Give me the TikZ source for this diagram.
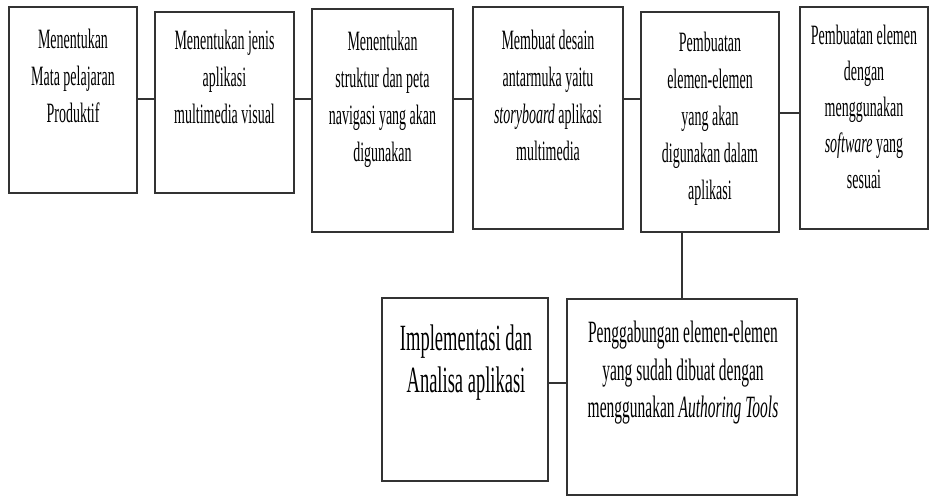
\documentclass[tikz,border=0pt]{standalone}
\usepackage{fontspec}
\newfontfamily\boxfont[FakeStretch=0.5]{Liberation Serif}

\begin{document}
\begin{tikzpicture}[x=1pt, y=-1pt,
  box/.style={draw=black!80, line width=1.6pt, inner sep=0pt},
  link/.style={draw=black!80, line width=1.6pt},
  txt/.style={align=center, anchor=north, inner sep=0pt,
    font=\boxfont\fontsize{28}{37}\selectfont}]
  \useasboundingbox (0,0) rectangle (929,497);
  % the boxes
  \node[box, minimum width=128pt, minimum height=186pt] (1) at (73,100) {};
  \node[box, minimum width=139pt, minimum height=181pt] (2) at (224.5,102.5) {};
  \node[box, minimum width=141pt, minimum height=223pt] (3) at (382.5,120.5) {};
  \node[box, minimum width=150pt, minimum height=222pt] (4) at (548,118) {};
  \node[box, minimum width=138pt, minimum height=220pt] (5) at (710,122) {};
  \node[box, minimum width=128pt, minimum height=222pt] (6) at (864,118) {};
  \node[box, minimum width=166pt, minimum height=183pt] (7) at (465,389.5) {};
  \node[box, minimum width=230pt, minimum height=196pt] (8) at (682,397) {};
  % the texts
  \node[txt] (t1) at (73,29) {Menentukan\\Mata pelajaran\\Produktif};
  \node[txt] (t2) at (224.5,30) {Menentukan jenis\\aplikasi\\multimedia visual};
  \node[txt] (t3) at (382.5,31) {Menentukan\\struktur dan peta\\navigasi yang akan\\digunakan};
  \node[txt] (t4) at (548,30) {Membuat desain\\antarmuka yaitu\\\textit{storyboard} aplikasi\\multimedia};
  \node[txt] (t5) at (710,32) {Pembuatan\\elemen-elemen\\yang akan\\digunakan dalam\\aplikasi};
  \node[txt, font=\boxfont\fontsize{28}{36}\selectfont] (t6) at (864,25) {Pembuatan elemen\\dengan\\menggunakan\\\textit{software} yang\\sesuai};
  \node[txt, font=\boxfont\fontsize{37}{42}\selectfont] (t7) at (466,325) {Implementasi dan\\Analisa aplikasi};
  \node[txt, font=\boxfont\fontsize{31}{37.5}\selectfont] (t8) at (683,321) {Penggabungan elemen-elemen\\yang sudah dibuat dengan\\menggunakan \textit{Authoring Tools}};
  % the links
  \coordinate (r1) at (0,99);
  \coordinate (r2) at (0,113);
  \coordinate (r3) at (0,383);
  \draw[link] (1.east |- r1) -- (2.west |- r1);
  \draw[link] (2.east |- r1) -- (3.west |- r1);
  \draw[link] (3.east |- r1) -- (4.west |- r1);
  \draw[link] (4.east |- r1) -- (5.west |- r1);
  \draw[link] (5.east |- r2) -- (6.west |- r2);
  \draw[link] (5.south -| 8.north) -- (8.north);
  \draw[link] (7.east |- r3) -- (8.west |- r3);
\end{tikzpicture}
\end{document}
